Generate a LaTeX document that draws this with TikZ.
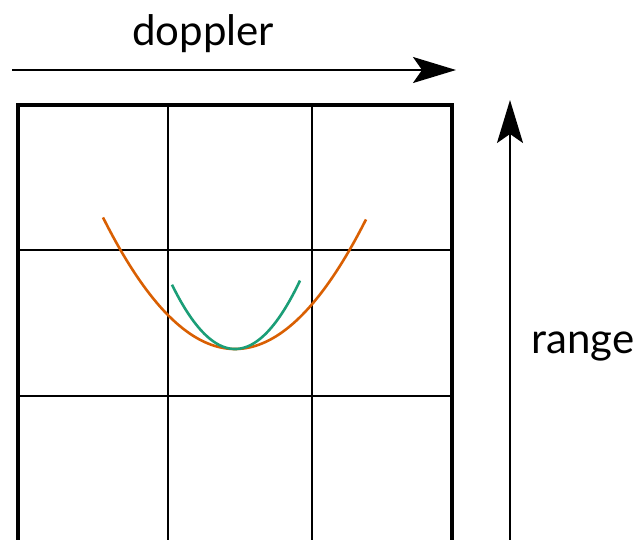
\documentclass[tikz,border=0pt]{standalone}
\usepackage{fontspec}
\setmainfont{Lato}
\usetikzlibrary{arrows.meta}
\definecolor{dorange}{HTML}{D95F02}
\definecolor{dgreen}{HTML}{1B9E77}

\begin{document}
\begin{tikzpicture}[
    x=1pt,y=-1pt,
    font=\fontsize{42}{48}\selectfont,
    axislabel/.style={anchor=base, inner sep=0pt},
    axisarrow/.style={-{Stealth[length=43pt, width=26pt, inset=9pt]}, line width=2pt},
    frame/.style={line width=4.2pt, line join=miter},
    cell/.style={line width=2pt},
    wide/.style={dorange, line width=2.6pt},
    narrow/.style={dgreen, line width=2.6pt}
  ]
    % Bildgroesse
    \useasboundingbox (0,0) rectangle (634,539);

    % Achsen
    \coordinate (dstart) at (12,70);
    \coordinate (dend)   at (456,70);
    \coordinate (rstart) at (510,545);
    \coordinate (rend)   at (510,100);
    \draw[axisarrow] (dstart) -- (dend);
    \draw[axisarrow] (rstart) -- (rend);
    \node[axislabel] (doppler) at (203,45)  {doppler};
    \node[axislabel] (range)   at (583,353) {range};

    % Raster 3x3
    \foreach \gx in {168,312}
      \draw[cell] (\gx,105) -- (\gx,545);
    \foreach \gy in {250,396}
      \draw[cell] (18,\gy) -- (452,\gy);
    \draw[frame] (18,545) -- (18,105) -- (452,105) -- (452,545);

    % Parabeln
    \draw[wide]   plot[domain=-13.2:13.1, samples=80] ({235+10*\x},{349-0.755*\x*\x});
    \draw[narrow] plot[domain=-6.3:6.5, samples=60]   ({235+10*\x},{349-1.62*\x*\x});
\end{tikzpicture}
\end{document}
